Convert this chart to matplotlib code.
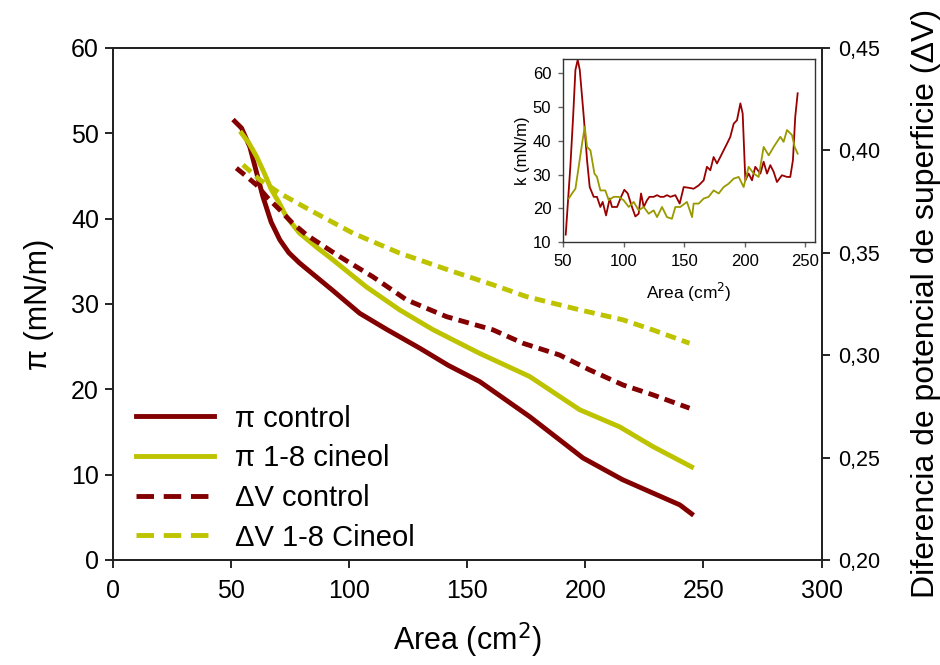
import matplotlib.pyplot as plt
from matplotlib.lines import Line2D
from matplotlib.ticker import FuncFormatter

plt.rcParams["font.family"] = ["Liberation Sans", "DejaVu Sans"]

# main isotherms: surface pressure (left axis)
area_pi_control = [51.6, 54.5, 58.0, 63.5, 67.0, 70.7, 74.5, 79.0, 86.0, 93.0, 104.5, 116.0, 130.0, 142.0, 155.3, 176.4, 189.0, 199.0, 215.8, 228.5, 240.0, 245.0]
pi_control = [51.4, 50.6, 48.4, 42.6, 39.6, 37.5, 36.0, 34.8, 33.2, 31.6, 28.9, 27.0, 24.8, 22.8, 20.9, 16.8, 14.1, 11.95, 9.4, 7.85, 6.45, 5.4]

area_pi_cineol = [54.5, 57.5, 60.8, 64.0, 67.1, 70.5, 73.5, 79.0, 86.0, 93.0, 107.3, 121.4, 135.4, 149.6, 155.3, 176.4, 197.6, 214.5, 228.5, 245.0]
pi_cineol = [50.0, 48.9, 47.3, 45.4, 43.4, 41.8, 40.2, 38.3, 36.7, 35.2, 32.0, 29.3, 27.0, 25.0, 24.2, 21.5, 17.6, 15.6, 13.3, 10.9]

# surface potential (right axis)
area_dv_control = [52.3, 56.0, 60.8, 65.5, 70.7, 76.0, 82.0, 96.0, 110.0, 124.3, 141.2, 161.0, 173.6, 189.0, 201.8, 216.0, 228.6, 244.1]
dv_control = [0.3913, 0.3878, 0.3831, 0.3768, 0.3709, 0.3645, 0.3587, 0.3481, 0.3383, 0.3270, 0.3188, 0.3123, 0.3058, 0.3001, 0.2928, 0.2854, 0.2806, 0.2741]

area_dv_cineol = [55.1, 62.0, 70.7, 83.3, 101.7, 121.4, 144.0, 161.0, 175.0, 197.6, 216.0, 228.6, 244.1]
dv_cineol = [0.3929, 0.3858, 0.3790, 0.3709, 0.3595, 0.3498, 0.3408, 0.3343, 0.3286, 0.3221, 0.3172, 0.3123, 0.3058]

# inset: compressibility modulus
k_area_control = [52.2, 56.0, 58.3, 60.2, 62.1, 63.8, 67.1, 69.8, 72.0, 75.3, 78.0, 80.8, 82.7, 85.5, 88.5, 90.4, 94.6, 97.9,
                  100.6, 103.4, 106.9, 109.7, 112.4, 114.4, 116.6, 119.3, 121.3, 124.8, 127.6, 130.3, 133.1, 135.8, 138.6,
                  142.7, 146.3, 149.6, 153.7, 157.8, 162.0, 166.1, 168.8, 171.6, 174.3, 177.1, 179.8, 182.6, 185.4, 188.1,
                  190.9, 193.6, 196.4, 198.3, 200.5, 203.2, 206.0, 208.7, 212.9, 215.6, 218.4, 221.1, 223.9, 226.6, 230.7,
                  234.9, 237.6, 239.8, 241.7, 243.7]
k_control = [12.2, 32.3, 47.1, 61.0, 64.0, 61.0, 47.1, 34.3, 26.3, 23.4, 23.4, 20.4, 21.9, 17.9, 22.9, 20.4, 20.4, 23.4,
             25.5, 24.4, 20.4, 17.6, 18.4, 24.4, 20.4, 22.4, 23.4, 23.4, 23.9, 23.4, 23.4, 23.9, 23.4,
             23.9, 21.4, 26.3, 26.1, 25.8, 26.8, 28.3, 32.3, 31.3, 35.2, 33.3, 35.2, 37.2, 39.2, 41.2,
             45.1, 46.1, 51.1, 48.1, 28.3, 30.3, 28.3, 32.3, 30.3, 33.8, 30.3, 32.8, 30.8, 27.8, 29.8,
             29.3, 29.3, 34.3, 47.1, 54.1]

k_area_cineol = [54.7, 57.4, 60.2, 62.9, 65.7, 67.9, 69.8, 72.6, 75.9, 78.0, 80.8, 84.9, 87.7, 91.8, 95.9, 100.0, 104.2,
                 108.3, 112.4, 116.6, 120.7, 124.8, 127.6, 131.7, 135.8, 139.9, 142.7, 146.8, 152.3, 156.5, 157.8, 162.0,
                 166.1, 170.2, 174.3, 178.5, 182.6, 186.7, 190.9, 195.0, 199.1, 203.2, 207.4, 211.5, 215.6, 219.8, 223.9,
                 229.4, 232.1, 234.9, 239.0, 241.2, 243.7]
k_cineol = [22.9, 24.4, 25.8, 32.3, 39.2, 44.2, 38.2, 37.2, 30.3, 29.3, 25.3, 25.3, 22.4, 23.4, 23.4, 22.4, 20.4,
            21.9, 19.4, 20.4, 18.4, 19.4, 17.4, 20.4, 17.4, 16.9, 20.4, 20.4, 21.9, 17.4, 21.4, 21.4,
            22.9, 23.4, 25.3, 24.4, 26.3, 27.3, 28.8, 29.3, 26.3, 32.3, 30.3, 29.3, 38.2, 35.7, 38.2,
            41.2, 39.7, 43.2, 41.7, 38.2, 36.2]

labels = ["π control", "π 1-8 cineol", "ΔV control", "ΔV 1-8 Cineol"]

RED = "#820000"
YEL = "#BEC300"
DASH = (0, (2.2, 1.3))

fig = plt.figure(figsize=(9.4, 6.65), dpi=100)
ax = fig.add_axes([0.120, 0.158, 0.754, 0.770])
ax2 = ax.twinx()

ax.plot(area_pi_control, pi_control, color=RED, lw=3.5)
ax.plot(area_pi_cineol, pi_cineol, color=YEL, lw=3.5)
ax2.plot(area_dv_control, dv_control, color=RED, lw=3.5, ls=DASH)
ax2.plot(area_dv_cineol, dv_cineol, color=YEL, lw=3.5, ls=DASH)

ax.set_xlim(0, 300)
ax.set_ylim(0, 60)
ax2.set_ylim(0.20, 0.45)
ax.set_xticks(range(0, 301, 50))
ax.set_yticks(range(0, 61, 10))
ax2.set_yticks([0.20, 0.25, 0.30, 0.35, 0.40, 0.45])
ax2.yaxis.set_major_formatter(FuncFormatter(lambda v, p: f"{v:.2f}".replace(".", ",")))

ax.tick_params(axis="y", direction="out", length=6, width=1.2, labelsize=18, pad=4)
ax.tick_params(axis="x", direction="out", length=6, width=1.2, labelsize=18, pad=8)
ax2.tick_params(direction="out", length=6, width=1.2, labelsize=15.5, pad=6)
for a in (ax, ax2):
    for s in a.spines.values():
        s.set_linewidth(1.3)
        s.set_color("#222222")

ax.set_xlabel("Area (cm$^2$)", fontsize=22, labelpad=12)
ax.set_ylabel("π (mN/m)", fontsize=22, labelpad=12)
ax2.set_ylabel("Diferencia de potencial de superficie (ΔV)", fontsize=23, labelpad=22)

# legend handles drawn with the longer dashes seen in the key
handles = [
    Line2D([], [], color=RED, lw=3.5),
    Line2D([], [], color=YEL, lw=3.5),
    Line2D([], [], color=RED, lw=3.5, ls=(0, (3.6, 2.0))),
    Line2D([], [], color=YEL, lw=3.5, ls=(0, (3.6, 2.0))),
]
ax.legend(handles, labels, loc="lower left", bbox_to_anchor=(-0.005, -0.035),
          fontsize=21, frameon=False, handlelength=2.7, handletextpad=0.7, labelspacing=0.4)

# inset
axi = fig.add_axes([0.599, 0.636, 0.268, 0.275])
axi.plot(k_area_control, k_control, color="#990000", lw=1.3)
axi.plot(k_area_cineol, k_cineol, color="#999900", lw=1.3)
axi.set_xlim(50, 258)
axi.set_ylim(10, 64.2)
axi.set_xticks([50, 100, 150, 200, 250])
axi.set_yticks([10, 20, 30, 40, 50, 60])
axi.tick_params(direction="out", length=3.5, width=1.0, labelsize=12, pad=5, color="#666666")
for s in axi.spines.values():
    s.set_linewidth(1.0)
    s.set_color("#333333")
axi.set_xlabel("Area (cm$^{2}$)", fontsize=12.5, labelpad=9)
axi.set_ylabel("k (mN/m)", fontsize=12, labelpad=2)

fig.savefig("out.png", dpi=100)
